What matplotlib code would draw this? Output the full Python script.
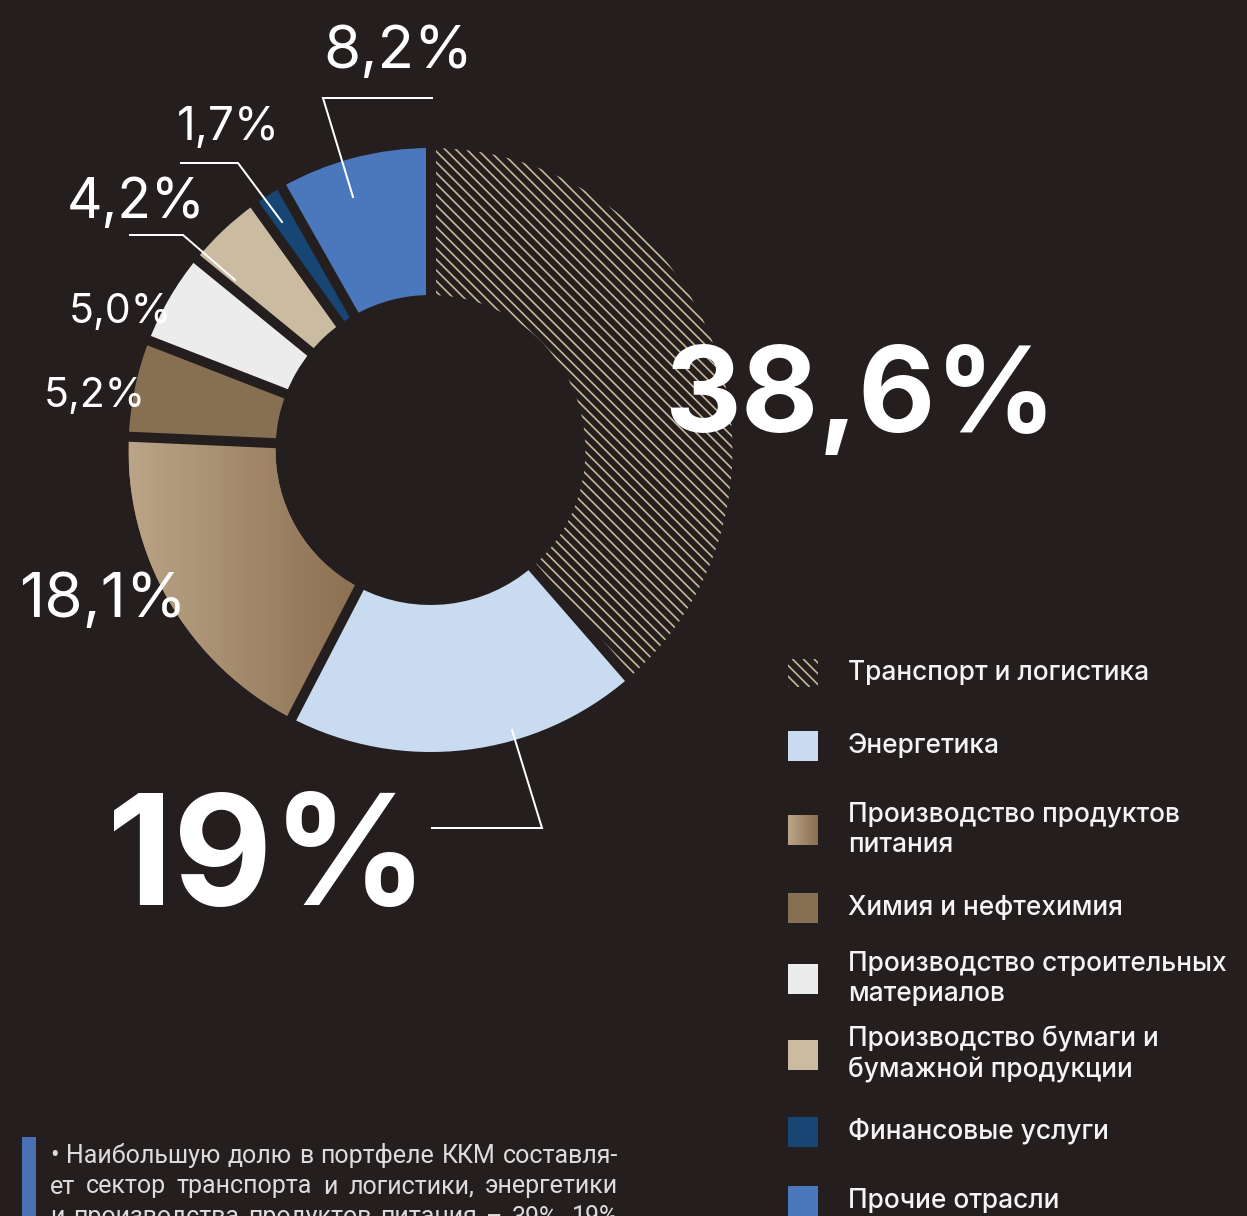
import numpy as np
import matplotlib
matplotlib.use('Agg')
import matplotlib.pyplot as plt
from matplotlib.patches import Rectangle
from matplotlib.collections import LineCollection

# Структура портфеля ККМ по отраслям, %
sectors = ['Транспорт и логистика', 'Энергетика', 'Производство продуктов\nпитания',
           'Химия и нефтехимия', 'Производство строительных\nматериалов',
           'Производство бумаги и\nбумажной продукции', 'Финансовые услуги', 'Прочие отрасли']
shares = [38.6, 19.0, 18.1, 5.2, 5.0, 4.2, 1.7, 8.2]
share_labels = ['38,6%', '19%', '18,1%', '5,2%', '5,0%', '4,2%', '1,7%', '8,2%']
colors = ['#241f1e', '#c8dbf0', '#a58b6d', '#876f51', '#ececec', '#cbbba0', '#174574', '#4b78bc']

note_lines = ['• Наибольшую долю в портфеле ККМ составля-',
              'ет сектор транспорта и логистики, энергетики',
              'и производства продуктов питания – 39%, 19%']

BG = '#241f1e'
HATCH_COLOR = '#c6b597'
HATCH_STEP = 10.8        # px between diagonal lines
GRAD_LIGHT = '#bba487'; GRAD_DARK = '#8a6f50'
W, H = 1247, 1216
DPI = 130
PT = 72 / DPI   # pixels -> points

CX, CY = 430.5, 450; R_OUT = 302; R_IN = 155
GAP = 10

plt.rcParams['font.family'] = ['Inter', 'DejaVu Sans']

fig = plt.figure(figsize=(W / DPI, H / DPI), dpi=DPI, facecolor=BG)
ax = fig.add_axes([0, 0, 1, 1])
ax.set_facecolor(BG)


def diag_hatch(x0, x1, y0, y1, clip):
    # lines from top-left to bottom-right (y grows downward here)
    span = (x1 - x0) + (y1 - y0)
    segs = [[(s, y0), (s + (y1 - y0), y1)] for s in np.arange(x0 - (y1 - y0), x1 + HATCH_STEP, HATCH_STEP)]
    lc = LineCollection(segs, colors=HATCH_COLOR, linewidths=1.7 * PT, zorder=2)
    ax.add_collection(lc)
    lc.set_clip_path(clip)


# y axis points down, so counterclock in data = clockwise on screen
wedges, _ = ax.pie(shares, colors=colors, startangle=-90, counterclock=True,
                   center=(CX, CY), radius=R_OUT, frame=True,
                   wedgeprops=dict(width=R_OUT - R_IN, linewidth=0))
diag_hatch(CX - 10, CX + R_OUT + 10, CY - R_OUT - 10, CY + R_OUT + 10, wedges[0])

# gradient fill for food production
grad = np.linspace(0, 1, 256).reshape(1, -1)
cmap = matplotlib.colors.LinearSegmentedColormap.from_list('food', [GRAD_LIGHT, GRAD_DARK])
img = ax.imshow(grad, cmap=cmap, extent=(CX - R_OUT, CX - 70, CY + R_OUT, CY - 20),
                aspect='auto', zorder=2)
img.set_clip_path(wedges[2])

# gaps between sectors
cum = np.concatenate([[0], np.cumsum(shares)]) / sum(shares)
for c in cum[:-1]:
    a = np.deg2rad(-90 + 360 * c)
    r = np.array([R_IN - 5, R_OUT + 5])
    ax.plot(CX + r * np.cos(a), CY + r * np.sin(a), color=BG, lw=GAP * PT,
            solid_capstyle='butt', zorder=3)

# labels: (x, baseline y, font size px, weight)
label_layout = {
    '38,6%': (664, 432, 119, 'bold'),
    '19%': (107, 905, 153, 'bold'),
    '18,1%': (19, 617, 62, 'normal'),
    '5,2%': (44, 407, 41, 'normal'),
    '5,0%': (69, 323, 41, 'normal'),
    '4,2%': (67, 218, 55, 'normal'),
    '1,7%': (177, 140, 46, 'normal'),
    '8,2%': (323, 68, 60, 'normal'),
}
for lab in share_labels:
    x, y, px, wt = label_layout[lab]
    ax.text(x, y, lab, color='white', fontsize=px * PT, fontweight=wt,
            ha='left', va='baseline', zorder=6)

# leader lines
leaders = [
    [(432, 98), (323, 98), (353, 197)],
    [(181, 163), (238, 163), (282, 222)],
    [(130, 235), (183, 235), (235, 280)],
    [(432, 828), (542, 828), (512, 730)],
]
for pts in leaders:
    xs, ys = zip(*pts)
    ax.plot(xs, ys, color='white', lw=2 * PT, zorder=5, solid_joinstyle='miter')

# legend
leg_rows = [673, 746, 830, 908, 979, 1055, 1132, 1201]
SQ = 30; SQX = 788; TX = 848; LINE = 31
for i, (name, yc) in enumerate(zip(sectors, leg_rows)):
    if i == 0:
        sq = Rectangle((SQX, yc - 14), SQ, 28, facecolor=BG, linewidth=0, zorder=1)
        ax.add_patch(sq)
        diag_hatch(SQX, SQX + SQ, yc - 14, yc + 14, sq)
    elif i == 2:
        sq = Rectangle((SQX, yc - SQ / 2), SQ, SQ, facecolor='none', linewidth=0, zorder=4)
        ax.add_patch(sq)
        gi = ax.imshow(grad, cmap=cmap, extent=(SQX, SQX + SQ, yc + SQ / 2, yc - SQ / 2),
                       aspect='auto', zorder=4)
        gi.set_clip_path(sq)
    else:
        ax.add_patch(Rectangle((SQX, yc - SQ / 2), SQ, SQ, facecolor=colors[i],
                               linewidth=0, zorder=4))
    nl = name.count('\n') + 1
    y0 = yc + 7 - (nl - 1) * LINE / 2
    for k, part in enumerate(name.split('\n')):
        ax.text(TX, y0 + k * LINE, part, color='#f4f4f4', fontsize=26.3 * PT,
                fontweight='medium', ha='left', va='baseline', zorder=6)

# note at the bottom, justified
ax.add_patch(Rectangle((22, 1137), 14, 100, facecolor='#4a6fb5', linewidth=0, zorder=4))
renderer = fig.canvas.get_renderer()
NX0, NX1 = 50, 618
note_fs = 25 * PT
for j, line in enumerate(note_lines):
    yb = 1163 + j * 30.5
    words = line.split(' ')
    tw = []
    for wd in words:
        t = ax.text(0, yb, wd, color='#dcdcdc', fontsize=note_fs, family=['Roboto', 'DejaVu Sans'],
                    ha='left', va='baseline', zorder=6)
        tw.append((t, t.get_window_extent(renderer).width))
    space = (NX1 - NX0 - sum(w for _, w in tw)) / (len(tw) - 1)
    x = NX0
    for t, w in tw:
        t.set_x(x)
        x += w + space

ax.set_xlim(0, W)
ax.set_ylim(H, 0)
ax.axis('off')

fig.savefig('out.png', dpi=DPI, facecolor=BG)
